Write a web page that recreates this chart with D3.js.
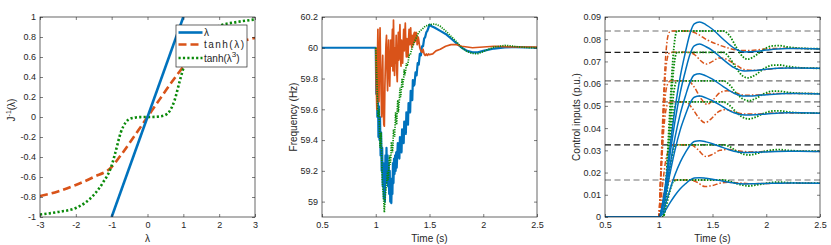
<!DOCTYPE html>
<meta charset="utf-8">
<script src="https://d3js.org/d3.v7.min.js"></script>
<style>
  body { margin: 0; background: #fff; }
  text { font-family: "Liberation Sans", Arial, sans-serif; }
</style>
<svg id="fig" width="831" height="245"></svg>
<script>
// ---------- panel 1 : J'^-1(lambda) ----------
var lamX = [-1, 1];
var lamY = [-1, 1];
var tanhX = [-3, -2.5, -2, -1.5, -1, -0.75, -0.5, -0.25, 0, 0.25, 0.5, 0.75, 1, 1.5, 2, 2.5, 3];
var tanhY = [-0.79, -0.745, -0.68, -0.6, -0.5, -0.385, -0.26, -0.13, 0, 0.13, 0.26, 0.385, 0.5, 0.6, 0.68, 0.745, 0.79];
var cubeX = [-3, -2.5, -2, -1.75, -1.5, -1.25, -1, -0.9, -0.75, -0.6, -0.5, -0.35, -0.2, 0, 0.2, 0.35, 0.5, 0.6, 0.75, 0.9, 1, 1.25, 1.5, 1.75, 2, 2.5, 3];
var cubeY = [-0.975, -0.95, -0.91, -0.86, -0.78, -0.66, -0.485, -0.36, -0.16, -0.05, -0.02, -0.006, -0.001, 0, 0.001, 0.006, 0.02, 0.05, 0.16, 0.36, 0.485, 0.66, 0.78, 0.86, 0.91, 0.95, 0.975];
var p1XTicks = [-3, -2, -1, 0, 1, 2, 3];
var p1XLabels = ["-3", "-2", "-1", "0", "1", "2", "3"];
var p1YTicks = [-1, -0.8, -0.6, -0.4, -0.2, 0, 0.2, 0.4, 0.6, 0.8, 1];
var p1YLabels = ["-1", "-0.8", "-0.6", "-0.4", "-0.2", "0", "0.2", "0.4", "0.6", "0.8", "1"];

// ---------- panel 2 : frequency ----------
var freqBlue = [[0.5,60],[1.0,60],[1.005,59.7],[1.01,59.85],[1.015,59.55],[1.02,59.75],[1.025,59.42],[1.03,59.62],
  [1.035,59.4],[1.04,59.55],[1.045,59.3],[1.05,59.45],[1.055,59.2],[1.06,59.35],[1.065,59.1],[1.07,59.25],
  [1.075,59.02],[1.08,59.15],[1.085,59.0],[1.09,59.3],[1.095,59.12],[1.1,59.35],[1.105,59.15],[1.11,59.3],
  [1.115,59.1],[1.12,59.25],[1.125,59.05],[1.13,59.2],[1.135,59.0],[1.14,59.1],[1.145,58.99],[1.15,59.15],
  [1.155,59.05],[1.16,59.25],[1.165,59.12],[1.17,59.28],[1.175,59.18],[1.18,59.3],[1.185,59.2],[1.19,59.32],
  [1.195,59.22],[1.2,59.3],[1.205,59.38],[1.21,59.3],[1.215,59.34],[1.22,59.28],[1.225,59.42],[1.23,59.36],
  [1.235,59.4],[1.24,59.32],[1.245,59.47],[1.25,59.4],[1.255,59.44],[1.26,59.38],[1.265,59.52],[1.27,59.46],
  [1.275,59.5],[1.28,59.44],[1.285,59.58],[1.29,59.52],[1.295,59.56],[1.3,59.5],[1.305,59.64],[1.31,59.6],
  [1.315,59.63],[1.32,59.58],[1.325,59.72],[1.33,59.68],[1.335,59.7],[1.34,59.66],[1.345,59.79],[1.35,59.75],
  [1.36,59.76],[1.37,59.84],[1.38,59.82],[1.39,59.9],[1.4,59.89],[1.41,59.96],[1.42,59.95],
  [1.43,60.01],[1.44,60.01],[1.45,60.06],[1.46,60.07],[1.47,60.1],[1.48,60.11],[1.49,60.13],[1.5,60.15],
  [1.52,60.14],[1.55,60.13],[1.6,60.11],[1.65,60.09],[1.7,60.06],[1.75,60.03],[1.8,60.0],[1.85,59.98],
  [1.9,59.97],[1.95,59.97],[2.0,59.98],[2.1,59.995],[2.2,60.003],[2.3,60.004],[2.4,60.002],[2.5,60.0]];
var freqRed = [[1.0,60],[1.005,59.75],[1.01,59.6],[1.015,59.9],[1.02,60.12],[1.025,59.85],[1.03,59.65],[1.035,59.95],
  [1.04,60.13],[1.045,59.9],[1.05,59.7],[1.055,59.55],[1.06,59.8],[1.065,59.95],[1.07,59.6],[1.075,59.5],
  [1.08,59.49],[1.085,59.75],[1.09,59.9],[1.095,60.02],[1.1,60.08],[1.105,59.85],[1.11,59.72],[1.115,59.95],
  [1.12,60.05],[1.125,59.85],[1.13,59.75],[1.135,59.9],[1.14,60.05],[1.145,59.88],[1.15,60.0],[1.155,60.12],
  [1.16,59.85],[1.165,60.18],[1.17,59.95],[1.175,59.82],[1.18,60.0],[1.185,59.9],[1.19,60.08],[1.195,59.85],
  [1.2,59.78],[1.205,59.95],[1.21,60.1],[1.215,59.92],[1.22,60.05],[1.225,60.15],[1.23,59.95],[1.235,59.88],
  [1.24,60.05],[1.245,59.92],[1.25,59.9],[1.255,60.02],[1.26,60.12],[1.265,59.98],[1.27,60.08],[1.275,60.16],
  [1.28,60.0],[1.285,59.94],[1.29,60.06],[1.295,60.0],[1.3,59.94],[1.305,60.05],[1.31,60.12],[1.315,60.02],
  [1.32,60.1],[1.325,60.13],[1.33,60.03],[1.335,60.0],[1.34,60.08],[1.345,60.04],[1.35,60.02],[1.355,60.09],
  [1.36,60.1],[1.365,60.04],[1.37,60.05],[1.375,60.1],[1.38,60.09],[1.385,60.02],[1.39,60.03],[1.395,60.07],
  [1.4,60.05],[1.41,60.0],[1.42,59.98],[1.43,59.97],[1.44,59.99],
  [1.45,59.96],[1.46,59.95],[1.47,59.96],[1.48,59.95],[1.49,59.96],[1.5,59.955],[1.53,59.96],[1.56,59.98],
  [1.6,59.99],[1.65,60.01],[1.7,60.02],[1.75,60.02],[1.8,60.01],[1.9,60.0],[2.0,60.005],[2.1,60.01],
  [2.2,60.008],[2.3,60.005],[2.5,60.005]];
var freqGreen = [[1.0,60],[1.01,59.8],[1.02,59.55],[1.03,59.6],[1.04,59.35],[1.05,59.45],[1.06,59.15],[1.07,59.05],
  [1.08,58.93],[1.09,59.05],[1.1,59.1],[1.105,59.16],[1.11,59.2],[1.115,59.14],[1.12,59.18],[1.125,59.27],
  [1.13,59.3],[1.135,59.24],[1.14,59.28],[1.145,59.38],[1.15,59.38],[1.155,59.32],[1.16,59.36],[1.165,59.47],
  [1.17,59.45],[1.175,59.42],[1.18,59.5],[1.185,59.58],[1.19,59.52],[1.195,59.5],[1.2,59.6],[1.205,59.66],
  [1.21,59.58],[1.215,59.62],[1.22,59.66],[1.225,59.74],[1.23,59.68],[1.235,59.7],[1.24,59.75],[1.245,59.8],
  [1.25,59.74],[1.255,59.78],[1.26,59.8],[1.265,59.86],[1.27,59.82],[1.28,59.86],[1.285,59.9],[1.29,59.88],
  [1.3,59.9],[1.31,59.95],[1.32,59.95],[1.33,59.98],
  [1.34,60.0],[1.36,60.04],[1.38,60.07],[1.4,60.1],[1.43,60.12],[1.46,60.14],[1.5,60.15],[1.55,60.155],
  [1.6,60.14],[1.65,60.11],[1.7,60.075],[1.75,60.04],[1.8,60.0],[1.85,59.975],[1.9,59.963],[1.95,59.962],
  [2.0,59.975],[2.05,59.99],[2.1,60.005],[2.2,60.015],[2.25,60.013],[2.3,60.008],[2.4,60.002],[2.5,60.0]];
var p2XTicks = [0.5, 1, 1.5, 2, 2.5];
var p2XLabels = ["0.5", "1", "1.5", "2", "2.5"];
var p2YTicks = [59, 59.2, 59.4, 59.6, 59.8, 60, 60.2];
var p2YLabels = ["59", "59.2", "59.4", "59.6", "59.8", "60", "60.2"];

// ---------- panel 3 : control inputs ----------
var capLevels = [0.0837, 0.0741, 0.0613, 0.0518, 0.0325, 0.01665];
var capDark = [false, true, false, false, true, false];
var ctrlT = [0.5, 1.0, 1.05, 1.1, 1.15, 1.2, 1.25, 1.29, 1.33, 1.38, 1.44, 1.5, 1.6, 1.7, 1.8, 1.9, 2.0, 2.1, 2.2, 2.3, 2.5];
var blueA = [0, 0, .0105, .0299, .0483, .0632, .0746, .0825, .0869, .0878, .0865, .0845, .0800, .0760, .0743, .0745, .0751, .0756, .0758, .0758, .0756];
var blueB = [0, 0, .0093, .0265, .0428, .0560, .0661, .0731, .0770, .0778, .0766, .0749, .0708, .0672, .0657, .0659, .0665, .0669, .0671, .0671, .0669];
var blueC = [0, 0, .0077, .0219, .0355, .0464, .0548, .0606, .0639, .0645, .0635, .0620, .0587, .0557, .0544, .0546, .0550, .0554, .0556, .0556, .0554];
var blueD = [0, 0, .0065, .0185, .0299, .0392, .0462, .0511, .0539, .0544, .0536, .0523, .0495, .0469, .0459, .0460, .0464, .0467, .0469, .0469, .0467];
var blueE = [0, 0, .0041, .0117, .0189, .0247, .0292, .0322, .0340, .0343, .0338, .0330, .0312, .0296, .0290, .0291, .0293, .0295, .0296, .0296, .0295];
var blueF = [0, 0, .0021, .0060, .0097, .0127, .0150, .0166, .0175, .0177, .0174, .0170, .0161, .0153, .0149, .0150, .0151, .0152, .0153, .0153, .0152];
var orangeA = [[0.5,0],[1.0,0],[1.02,.022],[1.04,.048],[1.06,.069],[1.08,.080],[1.1,.0832],[1.13,.0837],[1.28,.0837],[1.35,.0826],[1.45,.0797],[1.55,.0776],[1.65,.0760],[1.75,.0750],[1.85,.0749],[1.95,.0754],[2.05,.0758],[2.2,.0759],[2.5,.0756]];
var orangeB = [[0.5,0],[1.0,0],[1.02,.020],[1.04,.044],[1.06,.063],[1.08,.0715],[1.1,.0738],[1.13,.0741],[1.28,.0741],[1.34,.0728],[1.39,.0703],[1.44,.0688],[1.5,.0700],[1.56,.0716],[1.62,.0712],[1.7,.0690],[1.8,.0663],[1.9,.0660],[2.0,.0664],[2.1,.0669],[2.2,.0671],[2.5,.0669]];
var orangeC = [[0.5,0],[1.0,0],[1.02,.019],[1.04,.040],[1.06,.054],[1.08,.0595],[1.11,.0613],[1.27,.0613],[1.33,.0585],[1.39,.0535],[1.45,.0507],[1.51,.0530],[1.57,.0560],[1.64,.0568],[1.72,.0558],[1.8,.0548],[1.9,.0549],[2.0,.0553],[2.1,.0556],[2.5,.0555]];
var orangeD = [[0.5,0],[1.0,0],[1.02,.017],[1.04,.035],[1.06,.046],[1.08,.0505],[1.11,.0518],[1.25,.0518],[1.31,.0490],[1.37,.0448],[1.43,.0424],[1.49,.0443],[1.55,.0472],[1.62,.0483],[1.7,.0474],[1.8,.0463],[1.9,.0463],[2.0,.0466],[2.1,.0468],[2.5,.0467]];
var orangeE = [[0.5,0],[1.0,0],[1.03,.012],[1.06,.024],[1.09,.030],[1.12,.0322],[1.15,.0325],[1.3,.0325],[1.36,.0305],[1.44,.0272],[1.5,.0282],[1.57,.0300],[1.65,.0304],[1.75,.0297],[1.85,.0293],[2.0,.0295],[2.2,.0296],[2.5,.0295]];
var orangeF = [[0.5,0],[1.0,0],[1.03,.007],[1.06,.0125],[1.09,.0155],[1.12,.0165],[1.15,.01665],[1.3,.01665],[1.36,.0155],[1.43,.0137],[1.5,.0142],[1.57,.0152],[1.65,.0156],[1.75,.0153],[1.85,.0150],[2.0,.0151],[2.2,.0152],[2.5,.0152]];
var greenA = [[0.5,0],[1.04,0],[1.07,.018],[1.1,.045],[1.13,.070],[1.15,.080],[1.17,.0837],[1.6,.0837],[1.66,.0815],[1.72,.0765],[1.78,.0722],[1.83,.0710],[1.9,.0727],[1.98,.0755],[2.06,.0770],[2.12,.0771],[2.2,.0765],[2.3,.0760],[2.5,.0757]];
var greenB = [[0.5,0],[1.04,0],[1.07,.016],[1.1,.040],[1.13,.062],[1.15,.071],[1.17,.0741],[1.6,.0741],[1.66,.0715],[1.72,.0670],[1.78,.0635],[1.83,.0626],[1.9,.0640],[1.98,.0668],[2.06,.0683],[2.12,.0684],[2.2,.0678],[2.3,.0672],[2.5,.0669]];
var greenC = [[0.5,0],[1.04,0],[1.07,.014],[1.1,.034],[1.13,.052],[1.15,.059],[1.17,.0613],[1.6,.0613],[1.66,.0594],[1.72,.0558],[1.78,.0532],[1.84,.0523],[1.9,.0533],[1.98,.0555],[2.06,.0566],[2.12,.0566],[2.2,.0561],[2.3,.0557],[2.5,.0555]];
var greenD = [[0.5,0],[1.04,0],[1.07,.012],[1.1,.029],[1.13,.044],[1.15,.050],[1.17,.0518],[1.6,.0518],[1.66,.0502],[1.72,.0472],[1.78,.0449],[1.84,.0441],[1.9,.0449],[1.98,.0467],[2.06,.0477],[2.12,.0478],[2.2,.0473],[2.3,.0469],[2.5,.0467]];
var greenE = [[0.5,0],[1.04,0],[1.07,.009],[1.1,.020],[1.13,.029],[1.15,.0318],[1.17,.0325],[1.6,.0325],[1.66,.0316],[1.72,.0298],[1.78,.0284],[1.84,.0279],[1.9,.0284],[1.98,.0295],[2.06,.0302],[2.12,.0303],[2.2,.0300],[2.3,.0297],[2.5,.0296]];
var greenF = [[0.5,0],[1.04,0],[1.07,.005],[1.1,.011],[1.13,.0155],[1.15,.0164],[1.17,.01665],[1.6,.01665],[1.66,.0161],[1.72,.0151],[1.78,.0143],[1.84,.01395],[1.9,.0143],[1.98,.0150],[2.06,.0156],[2.12,.0157],[2.2,.0155],[2.3,.0153],[2.5,.0152]];
var p3YTicks = [0, 0.01, 0.02, 0.03, 0.04, 0.05, 0.06, 0.07, 0.08, 0.09];
var p3YLabels = ["0", "0.01", "0.02", "0.03", "0.04", "0.05", "0.06", "0.07", "0.08", "0.09"];

var BLUE = "#0072BD", RED = "#D95319", GREEN = "#0a8a0a", INK = "#262626";

var svg = d3.select("#fig");
svg.append("rect").attr("width", 831).attr("height", 245).attr("fill", "#fff");

// axes box with inward ticks on all four sides, MATLAB style
function makeAxes(id, x, y, xt, xl, yt, yl) {
  var x0 = x.range()[0], x1 = x.range()[1], y0 = y.range()[1], y1 = y.range()[0];
  svg.append("clipPath").attr("id", id).append("rect")
    .attr("x", x0).attr("y", y0).attr("width", x1 - x0).attr("height", y1 - y0);
  var plot = svg.append("g").attr("clip-path", "url(#" + id + ")");
  var deco = svg.append("g");
  function style(g) {
    g.attr("font-size", 9).attr("font-family", '"Liberation Sans", Arial, sans-serif').attr("color", INK);
    g.select(".domain").remove();
    g.selectAll(".tick line").attr("stroke-width", 0.6);
  }
  deco.append("g").attr("transform", "translate(0," + y1 + ")")
    .call(d3.axisBottom(x).tickValues(xt).tickFormat(function (d, i) { return xl[i]; }).tickSize(-3).tickPadding(5))
    .call(style);
  deco.append("g").attr("transform", "translate(0," + y0 + ")")
    .call(d3.axisTop(x).tickValues(xt).tickFormat("").tickSize(-3)).call(style);
  deco.append("g").attr("transform", "translate(" + x0 + ",0)")
    .call(d3.axisLeft(y).tickValues(yt).tickFormat(function (d, i) { return yl[i]; }).tickSize(-3).tickPadding(4))
    .call(style);
  deco.append("g").attr("transform", "translate(" + x1 + ",0)")
    .call(d3.axisRight(y).tickValues(yt).tickFormat("").tickSize(-3)).call(style);
  deco.append("rect").attr("x", x0).attr("y", y0).attr("width", x1 - x0).attr("height", y1 - y0)
    .attr("fill", "none").attr("stroke", INK).attr("stroke-width", 0.7);
  return { plot: plot, deco: deco };
}

function xLabel(txt, cx) {
  svg.append("text").attr("x", cx).attr("y", 242).attr("text-anchor", "middle")
    .attr("font-size", 10).attr("fill", INK).text(txt);
}
function yLabel(cx, cy) {
  return svg.append("text").attr("transform", "translate(" + cx + "," + cy + ") rotate(-90)")
    .attr("text-anchor", "middle").attr("font-size", 10).attr("fill", INK);
}

// ===== panel 1 =====
var x1s = d3.scaleLinear().domain([-3, 3]).range([40, 255]);
var y1s = d3.scaleLinear().domain([-1, 1]).range([217, 17]);
var a1 = makeAxes("c1", x1s, y1s, p1XTicks, p1XLabels, p1YTicks, p1YLabels);
var lineXY = function (xs, ys, sx, sy) {
  return d3.line().x(function (d, i) { return sx(xs[i]); }).y(function (d, i) { return sy(ys[i]); })
    .curve(d3.curveMonotoneX)(xs);
};
a1.plot.append("path").attr("d", lineXY(tanhX, tanhY, x1s, y1s))
  .attr("fill", "none").attr("stroke", RED).attr("stroke-width", 2.6).attr("stroke-dasharray", "8,4");
a1.plot.append("path").attr("d", lineXY(cubeX, cubeY, x1s, y1s))
  .attr("fill", "none").attr("stroke", GREEN).attr("stroke-width", 2.6).attr("stroke-dasharray", "2.2,2.2");
a1.plot.append("path").attr("d", lineXY(lamX, lamY, x1s, y1s))
  .attr("fill", "none").attr("stroke", BLUE).attr("stroke-width", 2.6);
xLabel("λ", 147.5);
var yl1 = yLabel(15, 110);
yl1.append("tspan").text("J");
yl1.append("tspan").attr("dy", -4).attr("font-size", 7).text("-1");
yl1.append("tspan").attr("dy", 4).text("(λ)");

// legend
var leg = svg.append("g");
leg.append("rect").attr("x", 176).attr("y", 25).attr("width", 71).attr("height", 42)
  .attr("fill", "#fff").attr("stroke", INK).attr("stroke-width", 0.7);
var legRows = [
  { y: 32.5, color: BLUE, dash: null },
  { y: 44.5, color: RED, dash: "8,4" },
  { y: 58, color: GREEN, dash: "2.2,2.2" }
];
legRows.forEach(function (r) {
  leg.append("line").attr("x1", 178.5).attr("x2", 202.5).attr("y1", r.y).attr("y2", r.y)
    .attr("stroke", r.color).attr("stroke-width", 2.6).attr("stroke-dasharray", r.dash);
});
leg.append("text").attr("x", 204).attr("y", 36).attr("font-size", 10).attr("fill", INK).text("λ");
leg.append("text").attr("x", 204).attr("y", 48).attr("font-size", 10).attr("fill", INK)
  .attr("textLength", 40).attr("lengthAdjust", "spacing").text("tanh(λ)");
var t3 = leg.append("text").attr("x", 204).attr("y", 61.5).attr("font-size", 10).attr("fill", INK);
t3.append("tspan").text("tanh(λ");
t3.append("tspan").attr("dy", -5).attr("font-size", 8).text("3");
t3.append("tspan").attr("dy", 5).text(")");

// ===== panel 2 =====
var x2s = d3.scaleLinear().domain([0.5, 2.5]).range([322, 537]);
var y2s = d3.scaleLinear().domain([58.9, 60.2]).range([217, 17]);
var a2 = makeAxes("c2", x2s, y2s, p2XTicks, p2XLabels, p2YTicks, p2YLabels);
var line2 = d3.line().x(function (d) { return x2s(d[0]); }).y(function (d) { return y2s(d[1]); });
a2.plot.append("path").attr("d", line2(freqBlue))
  .attr("fill", "none").attr("stroke", BLUE).attr("stroke-width", 2.2).attr("stroke-linejoin", "round");
a2.plot.append("path").attr("d", line2(freqRed))
  .attr("fill", "none").attr("stroke", RED).attr("stroke-width", 1.7).attr("stroke-linejoin", "round");
a2.plot.append("path").attr("d", line2(freqGreen))
  .attr("fill", "none").attr("stroke", GREEN).attr("stroke-width", 1.7).attr("stroke-dasharray", "1.2,1.2");
xLabel("Time (s)", 429.5);
yLabel(297, 117).text("Frequency (Hz)");

// ===== panel 3 =====
var x3s = d3.scaleLinear().domain([0.5, 2.5]).range([605, 820]);
var y3s = d3.scaleLinear().domain([0, 0.09]).range([217, 17]);
var a3 = makeAxes("c3", x3s, y3s, p2XTicks, p2XLabels, p3YTicks, p3YLabels);
a3.plot.selectAll("line.cap").data(capLevels).enter().append("line")
  .attr("x1", x3s(0.5)).attr("x2", x3s(2.5))
  .attr("y1", function (d) { return y3s(d); }).attr("y2", function (d) { return y3s(d); })
  .attr("stroke", function (d, i) { return capDark[i] ? "#1a1a1a" : "#707070"; })
  .attr("stroke-width", 1.2).attr("stroke-dasharray", "6,3.5");
var line3 = d3.line().x(function (d) { return x3s(d[0]); }).y(function (d) { return y3s(d[1]); })
  .curve(d3.curveMonotoneX);
[orangeA, orangeB, orangeC, orangeD, orangeE, orangeF].forEach(function (s) {
  a3.plot.append("path").attr("d", line3(s)).attr("fill", "none").attr("stroke", RED)
    .attr("stroke-width", 1.5).attr("stroke-dasharray", "5,2,1.5,2");
});
[greenA, greenB, greenC, greenD, greenE, greenF].forEach(function (s) {
  a3.plot.append("path").attr("d", line3(s)).attr("fill", "none").attr("stroke", GREEN)
    .attr("stroke-width", 1.8).attr("stroke-dasharray", "1.5,1.5");
});
[blueA, blueB, blueC, blueD, blueE, blueF].forEach(function (vals) {
  var pts = ctrlT.map(function (t, i) { return [t, vals[i]]; });
  a3.plot.append("path").attr("d", line3(pts)).attr("fill", "none").attr("stroke", BLUE)
    .attr("stroke-width", 1.5);
});
xLabel("Time (s)", 712.5);
yLabel(580, 117).text("Control inputs (p.u.)");
</script>
